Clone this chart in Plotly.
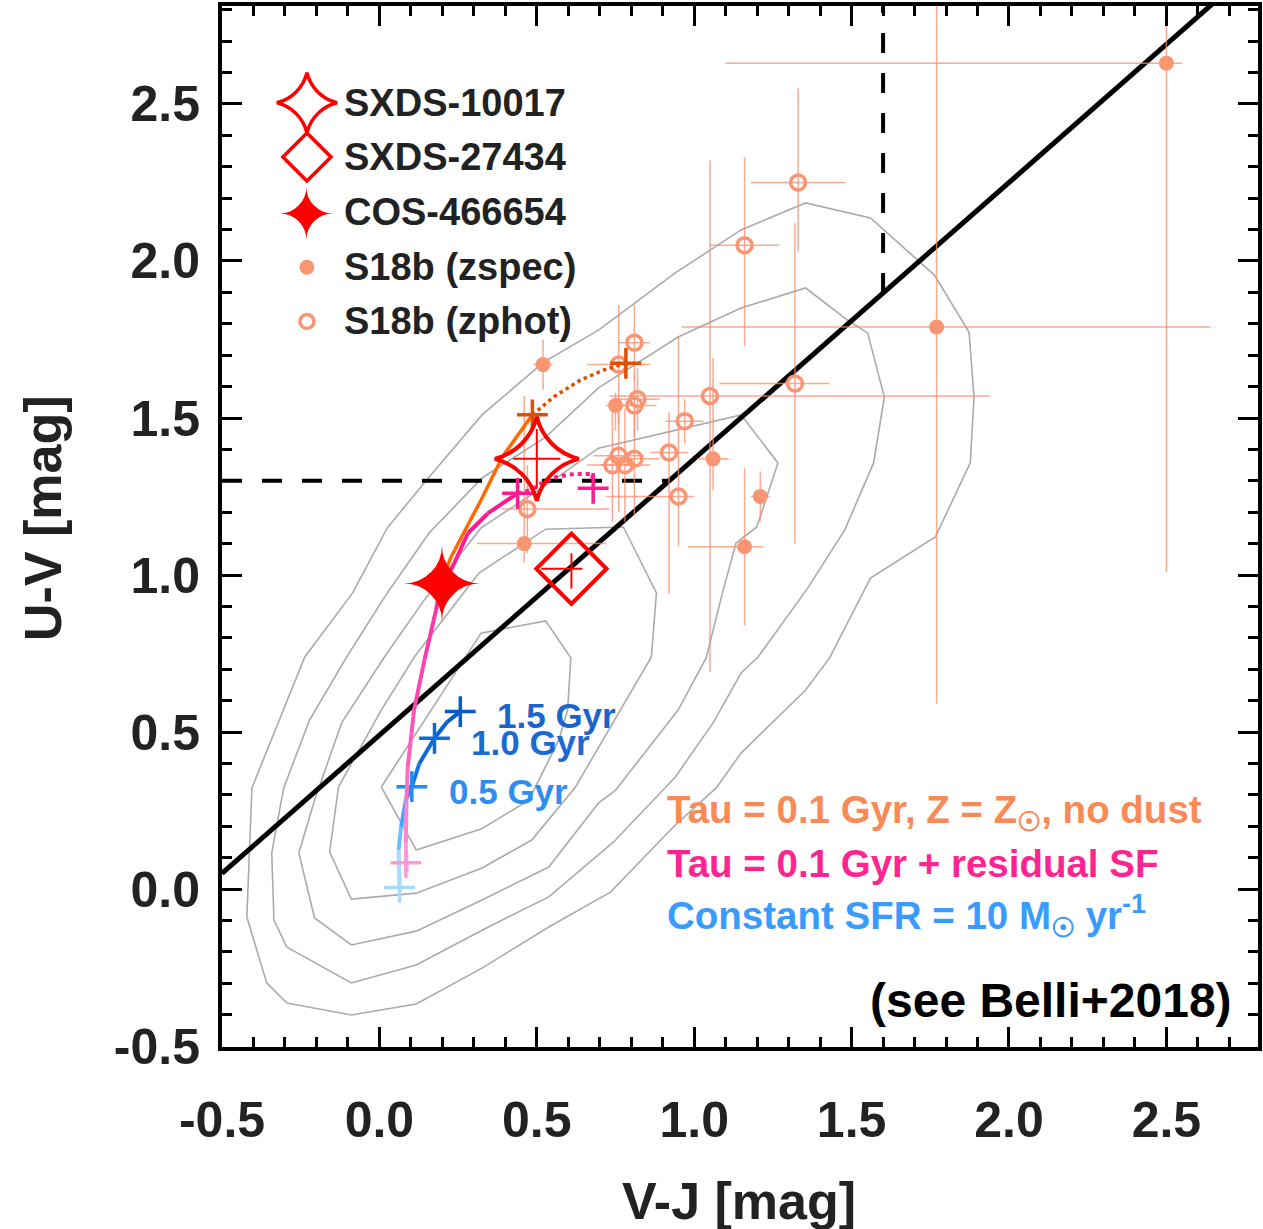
import plotly.graph_objects as go

# ---------------- data (V-J, U-V in mag) ----------------
# S18b, spectroscopic redshifts (filled circles)
zspec_vj = [2.50, 1.77, 0.52, 0.75, 1.06, 1.21, 1.16, 0.46]
zspec_uv = [2.63, 1.79, 1.67, 1.54, 1.37, 1.25, 1.09, 1.10]
zspec_vj_ep = [0.05, 0.87, 0.03, 0.03, 0.05, 0.03, 0.06, 0.26]
zspec_vj_em = [1.40, 0.81, 0.03, 0.03, 0.05, 0.03, 0.18, 0.15]
zspec_uv_ep = [1.62, 1.20, 0.08, 0.04, 0.32, 0.08, 0.25, 0.47]
zspec_uv_em = [1.62, 1.20, 0.08, 0.08, 0.10, 0.08, 0.25, 0.06]

# S18b, photometric redshifts (open circles)
zphot_vj = [1.33, 1.16, 1.32, 1.05, 0.81, 0.76, 0.82, 0.81, 0.97, 0.92, 0.76, 0.81, 0.74, 0.78, 0.95, 0.47]
zphot_uv = [2.25, 2.05, 1.61, 1.57, 1.74, 1.67, 1.56, 1.54, 1.49, 1.39, 1.38, 1.37, 1.35, 1.35, 1.25, 1.21]
zphot_vj_ep = [0.15, 0.11, 0.11, 0.89, 0.05, 0.10, 0.07, 0.07, 0.06, 0.06, 0.08, 0.08, 0.08, 0.08, 0.05, 0.26]
zphot_vj_em = [0.15, 0.11, 0.24, 0.32, 0.05, 0.10, 0.07, 0.07, 0.06, 0.06, 0.08, 0.08, 0.08, 0.08, 0.23, 0.08]
zphot_uv_ep = [0.30, 0.28, 0.51, 0.75, 0.12, 0.19, 0.10, 0.10, 0.07, 0.13, 0.18, 0.18, 0.18, 0.18, 0.51, 0.14]
zphot_uv_em = [0.22, 0.32, 0.51, 0.88, 0.12, 0.19, 0.10, 0.10, 0.07, 0.45, 0.18, 0.18, 0.18, 0.18, 0.16, 0.14]

# individual galaxies
sxds10017_vj, sxds10017_uv = [0.50], [1.37]
sxds10017_vj_err, sxds10017_uv_err = [0.075], [0.095]
sxds27434_vj, sxds27434_uv = [0.61], [1.02]
sxds27434_vj_ep, sxds27434_vj_em = [0.035], [0.096]
sxds27434_uv_ep, sxds27434_uv_em = [0.049], [0.063]
cos466654_vj, cos466654_uv = [0.20], [0.98]

# model tracks
tau_vj = [0.198, 0.228, 0.323, 0.391, 0.486]
tau_uv = [0.982, 1.058, 1.239, 1.377, 1.510]
tau_late_vj = [0.486, 0.555, 0.639, 0.713, 0.766, 0.783]
tau_late_uv = [1.510, 1.568, 1.621, 1.653, 1.669, 1.674]
tau_marks_vj = [0.486, 0.783]
tau_marks_uv = [1.510, 1.674]

res_vj = [0.087, 0.084, 0.086, 0.090, 0.102, 0.110, 0.143, 0.180, 0.196, 0.228, 0.281, 0.344, 0.407, 0.439]
res_uv = [0.055, 0.146, 0.283, 0.389, 0.496, 0.570, 0.729, 0.889, 0.981, 1.016, 1.133, 1.196, 1.239, 1.260]
res_late_vj = [0.439, 0.481, 0.523, 0.566, 0.618, 0.676, 0.679]
res_late_uv = [1.260, 1.271, 1.297, 1.313, 1.322, 1.322, 1.292]
res_marks_vj = [0.084, 0.439, 0.679]
res_marks_uv = [0.084, 1.260, 1.276]

csfr_vj = [0.064, 0.061, 0.069, 0.084, 0.103, 0.127, 0.175, 0.215, 0.257]
csfr_uv = [0.005, 0.124, 0.198, 0.283, 0.326, 0.400, 0.480, 0.532, 0.565]
csfr_marks_vj = [0.064, 0.103, 0.175, 0.257]
csfr_marks_uv = [0.005, 0.326, 0.480, 0.565]
csfr_labels = ["0.5 Gyr", "1.0 Gyr", "1.5 Gyr"]
csfr_label_vj = [0.214, 0.286, 0.366]
csfr_label_uv = [0.312, 0.468, 0.554]

# UVJ selection boundaries
uvj_diag_vj = [-0.5, 2.70]
uvj_diag_uv = [0.05, 2.866]
uvj_horiz_vj = [-0.5, 0.92]
uvj_horiz_uv = [1.30, 1.30]
uvj_vert_vj = [1.60, 1.60]
uvj_vert_uv = [1.898, 2.90]

# axis ticks
tick_vals = [-0.5, 0.0, 0.5, 1.0, 1.5, 2.0, 2.5]
tick_text = ["-0.5", "0.0", "0.5", "1.0", "1.5", "2.0", "2.5"]

# background galaxy density contours (outer -> inner)
contour_vj = [
    [-0.294, -0.358, -0.421, -0.405, -0.237, -0.085, 0.025, 0.158, 0.326, 0.522, 0.696, 0.940, 1.149, 1.354,
     1.560, 1.763, 1.873, 1.889, 1.877, 1.766, 1.560, 1.430, 1.354, 1.149, 1.070, 0.940, 0.734, 0.538, 0.326,
     0.117, -0.089, -0.294],
    [-0.294, -0.335, -0.342, -0.304, -0.222, -0.104, 0.025, 0.158, 0.326, 0.528, 0.696, 0.949, 1.149, 1.354,
     1.487, 1.551, 1.604, 1.570, 1.478, 1.361, 1.203, 1.149, 1.060, 0.940, 0.744, 0.538, 0.326, 0.117, -0.089,
     -0.294],
    [-0.256, -0.206, -0.120, 0.016, 0.142, 0.323, 0.554, 0.696, 1.149, 1.266, 1.199, 1.133, 1.092, 1.038,
     0.949, 0.750, 0.696, 0.538, 0.326, 0.117, -0.089, -0.206, -0.256],
    [-0.158, -0.130, 0.006, 0.111, 0.316, 0.528, 0.775, 0.880, 0.864, 0.696, 0.623, 0.484, 0.326, 0.117,
     -0.089, -0.158],
    [0.006, 0.323, 0.528, 0.608, 0.598, 0.570, 0.475, 0.323, 0.117, 0.006],
]
contour_uv = [
    [-0.363, -0.299, -0.089, 0.322, 0.739, 0.943, 1.150, 1.312, 1.510, 1.678, 1.780, 1.962, 2.099, 2.185,
     2.137, 1.955, 1.774, 1.567, 1.357, 1.121, 0.990, 0.736, 0.634, 0.433, 0.322, 0.204, -0.010, -0.121,
     -0.252, -0.366, -0.401, -0.363],
    [-0.185, -0.099, 0.115, 0.322, 0.538, 0.739, 0.943, 1.134, 1.309, 1.439, 1.596, 1.758, 1.850, 1.914,
     1.812, 1.771, 1.567, 1.357, 1.143, 0.959, 0.739, 0.688, 0.529, 0.357, 0.150, -0.025, -0.131, -0.242,
     -0.299, -0.185],
    [0.115, 0.283, 0.529, 0.739, 0.920, 1.150, 1.303, 1.404, 1.510, 1.357, 1.153, 1.102, 0.952, 0.736,
     0.570, 0.315, 0.274, 0.070, -0.035, -0.134, -0.178, -0.092, 0.115],
    [0.118, 0.325, 0.570, 0.739, 1.006, 1.146, 1.153, 0.943, 0.739, 0.452, 0.325, 0.156, 0.067, -0.013,
     -0.032, 0.118],
    [0.325, 0.815, 0.854, 0.736, 0.570, 0.475, 0.283, 0.191, 0.124, 0.325],
]

legend_names = ["SXDS-10017", "SXDS-27434", "COS-466654", "S18b (zspec)", "S18b (zphot)"]

# ---------------- styles ----------------
FONT = "Liberation Sans, Arial, sans-serif"
GLYPH_FONT = "DejaVu Sans"
SALMON = "#FA9572"
ERRC = "rgba(250,140,110,0.75)"
RED = "#FF0000"
FILLED_STAR = "\u2726"

fig = go.Figure()

for cx, cy in zip(contour_vj, contour_uv):
    fig.add_trace(go.Scatter(x=cx, y=cy, mode="lines", line=dict(color="#AAAAAA", width=1.6),
                             hoverinfo="skip"))

# selection boundaries
fig.add_trace(go.Scatter(x=uvj_diag_vj, y=uvj_diag_uv, mode="lines", line=dict(color="black", width=5)))
fig.add_trace(go.Scatter(x=uvj_horiz_vj, y=uvj_horiz_uv, mode="lines",
                         line=dict(color="black", width=4, dash="20px,20px")))
fig.add_trace(go.Scatter(x=uvj_vert_vj, y=uvj_vert_uv, mode="lines",
                         line=dict(color="black", width=4, dash="20px,20px")))

# S18b
fig.add_trace(go.Scatter(
    x=zphot_vj, y=zphot_uv, mode="markers",
    marker=dict(symbol="circle-open", size=15, color=SALMON, line=dict(width=3.5, color=SALMON)),
    error_x=dict(type="data", symmetric=False, array=zphot_vj_ep, arrayminus=zphot_vj_em,
                 color=ERRC, thickness=1.5, width=0),
    error_y=dict(type="data", symmetric=False, array=zphot_uv_ep, arrayminus=zphot_uv_em,
                 color=ERRC, thickness=1.5, width=0)))
fig.add_trace(go.Scatter(
    x=zspec_vj, y=zspec_uv, mode="markers",
    marker=dict(symbol="circle", size=15, color=SALMON),
    error_x=dict(type="data", symmetric=False, array=zspec_vj_ep, arrayminus=zspec_vj_em,
                 color=ERRC, thickness=1.5, width=0),
    error_y=dict(type="data", symmetric=False, array=zspec_uv_ep, arrayminus=zspec_uv_em,
                 color=ERRC, thickness=1.5, width=0)))

# constant SFR track with colour gradient
csfr_cols = ["#A6DBFF", "#6CC0FF", "#3FA5FF", "#1E8CF5", "#1479E6", "#0D6BDB", "#0A62D2", "#075AC8"]
for i in range(len(csfr_vj) - 1):
    fig.add_trace(go.Scatter(x=csfr_vj[i:i + 2], y=csfr_uv[i:i + 2], mode="lines",
                             line=dict(color=csfr_cols[i], width=4)))
fig.add_trace(go.Scatter(x=csfr_marks_vj, y=csfr_marks_uv, mode="markers",
                         marker=dict(symbol="cross-thin", size=22,
                                     line=dict(width=3.5, color=["#A6DBFF", "#1E8CF5", "#0D6BDB", "#075AC8"]))))

# residual SF track
res_cols = ["#FF9AD8", "#FF85CF", "#FF70C6", "#FF5EBD", "#FF55B8", "#FF45B0", "#FF38A8", "#FF2CA0",
            "#FF2399", "#FF1D94", "#FF1A92", "#FF1890", "#FF168F"]
for i in range(len(res_vj) - 1):
    fig.add_trace(go.Scatter(x=res_vj[i:i + 2], y=res_uv[i:i + 2], mode="lines",
                             line=dict(color=res_cols[i], width=4)))
fig.add_trace(go.Scatter(x=res_late_vj, y=res_late_uv, mode="lines",
                         line=dict(color="#FF1A90", width=4, dash="dot")))
fig.add_trace(go.Scatter(x=res_marks_vj, y=res_marks_uv, mode="markers",
                         marker=dict(symbol="cross-thin", size=22,
                                     line=dict(width=3.5, color=["#FF9AD8", "#FF1A90", "#FF1A90"]))))

# tau model, no dust
fig.add_trace(go.Scatter(x=tau_vj, y=tau_uv, mode="lines", line=dict(color="#FF6A00", width=3.5)))
fig.add_trace(go.Scatter(x=tau_late_vj, y=tau_late_uv, mode="lines",
                         line=dict(color="#E04E00", width=3.5, dash="dot")))
fig.add_trace(go.Scatter(x=tau_marks_vj, y=tau_marks_uv, mode="markers",
                         marker=dict(symbol="cross-thin", size=22, line=dict(width=3.5, color="#E04E00"))))

# individual galaxies
fig.add_trace(go.Scatter(
    x=sxds10017_vj, y=sxds10017_uv, mode="markers",
    marker=dict(symbol="star-diamond-open", size=60, color=RED, line=dict(width=4, color=RED)),
    error_x=dict(type="data", array=sxds10017_vj_err, color=RED, thickness=2, width=0),
    error_y=dict(type="data", array=sxds10017_uv_err, color=RED, thickness=2, width=0)))
fig.add_trace(go.Scatter(
    x=sxds27434_vj, y=sxds27434_uv, mode="markers",
    marker=dict(symbol="diamond-open", size=54, color=RED, line=dict(width=4, color=RED)),
    error_x=dict(type="data", symmetric=False, array=sxds27434_vj_ep, arrayminus=sxds27434_vj_em,
                 color=RED, thickness=2, width=0),
    error_y=dict(type="data", symmetric=False, array=sxds27434_uv_ep, arrayminus=sxds27434_uv_em,
                 color=RED, thickness=2, width=0)))

annotations = []
annotations.append(dict(text=FILLED_STAR, x=cos466654_vj[0], y=cos466654_uv[0], xref="x", yref="y",
                        xanchor="center", yanchor="middle", showarrow=False, yshift=-4,
                        font=dict(family=GLYPH_FONT, size=100, color=RED)))

# ---------------- legend (keys on a hidden overlay axis in paper units) ----------------
leg_x = 0.082
leg_text_x = 0.116
leg_rows = [0.907, 0.855, 0.802, 0.749, 0.697]
leg_markers = [dict(symbol="star-diamond-open", size=43, color=RED, line=dict(width=3.5, color=RED)),
               dict(symbol="diamond-open", size=37, color=RED, line=dict(width=3.5, color=RED)),
               None,
               dict(symbol="circle", size=15, color=SALMON),
               dict(symbol="circle-open", size=14, color=SALMON, line=dict(width=3.5, color=SALMON))]
for yy, mk in zip(leg_rows, leg_markers):
    if mk is not None:
        fig.add_trace(go.Scatter(x=[leg_x], y=[yy], mode="markers", marker=mk, xaxis="x2", yaxis="y2"))
annotations.append(dict(text=FILLED_STAR, x=leg_x, y=leg_rows[2], xref="paper", yref="paper",
                        xanchor="center", yanchor="middle", showarrow=False, yshift=-3,
                        font=dict(family=GLYPH_FONT, size=70, color=RED)))

for yy, name in zip(leg_rows, legend_names):
    annotations.append(dict(text="<b>%s</b>" % name, x=leg_text_x, y=yy, xref="paper", yref="paper",
                            xanchor="left", yanchor="middle", showarrow=False,
                            font=dict(family=FONT, size=38, color="#222222")))

gyr_cols = ["#2E8FF0", "#1A6AD2", "#1A64CC"]
for t, xx, yy, c in zip(csfr_labels, csfr_label_vj, csfr_label_uv, gyr_cols):
    annotations.append(dict(text="<b>%s</b>" % t, x=xx, y=yy, xref="x", yref="y", xanchor="left",
                            yanchor="middle", showarrow=False, font=dict(family=FONT, size=35, color=c)))

model_texts = [
    ("<b>Tau = 0.1 Gyr, Z = Z<sub>☉</sub>, no dust</b>", "#FA8A55", 0.2257),
    ("<b>Tau = 0.1 Gyr + residual SF</b>", "#FF2490", 0.1758),
    ("<b>Constant SFR = 10 M<sub>☉</sub> yr<sup>-1</sup></b>", "#3A9BFF", 0.1258),
]
for t, c, yy in model_texts:
    annotations.append(dict(text=t, x=0.4275, y=yy, xref="paper", yref="paper", xanchor="left",
                            yanchor="middle", showarrow=False, font=dict(family=FONT, size=38.5, color=c)))

annotations.append(dict(text="<b>(see Belli+2018)</b>", x=0.977, y=0.045, xref="paper", yref="paper",
                        xanchor="right", yanchor="middle", showarrow=False,
                        font=dict(family=FONT, size=48, color="black")))
annotations.append(dict(text="<b>V-J [mag]</b>", x=0.499, y=-0.148, xref="paper", yref="paper",
                        xanchor="center", yanchor="middle", showarrow=False,
                        font=dict(family=FONT, size=52, color="#222222")))
annotations.append(dict(text="<b>U-V [mag]</b>", x=-0.173, y=0.508, xref="paper", yref="paper",
                        xanchor="center", yanchor="middle", showarrow=False, textangle=-90,
                        font=dict(family=FONT, size=52, color="#222222")))

axis_common = dict(
    showgrid=False, zeroline=False, showline=True, linecolor="black", linewidth=4, mirror="allticks",
    ticks="inside", ticklen=20, tickwidth=3, tickcolor="black",
    tickmode="array", tickvals=tick_vals, ticktext=tick_text,
    tickfont=dict(family=FONT, size=50, color="#222222", weight="bold"),
    minor=dict(ticks="inside", ticklen=10, tickwidth=3, tickcolor="black", dtick=0.1, tick0=0),
)

fig.update_layout(
    width=1263, height=1229,
    margin=dict(l=222, r=1, t=6, b=182),
    paper_bgcolor="white", plot_bgcolor="white",
    showlegend=False,
    xaxis=dict(range=[-0.5, 2.791], ticklabelstandoff=26, **axis_common),
    yaxis=dict(range=[-0.503, 2.812], ticklabelstandoff=8, **axis_common),
    xaxis2=dict(overlaying="x", range=[0, 1], visible=False, anchor="y2"),
    yaxis2=dict(overlaying="y", range=[0, 1], visible=False, anchor="x2"),
    annotations=annotations,
)

fig.write_html("out.html")
